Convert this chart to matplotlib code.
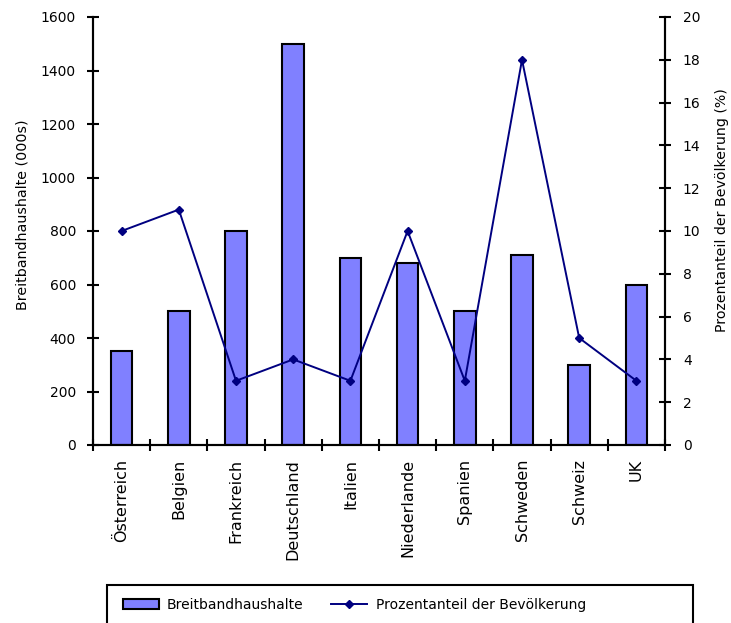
import matplotlib.pyplot as plt
from matplotlib.patches import Rectangle

plt.rcParams['font.family'] = ['DejaVu Sans']

# broadband households per country
laender = ['Österreich', 'Belgien', 'Frankreich', 'Deutschland', 'Italien',
           'Niederlande', 'Spanien', 'Schweden', 'Schweiz', 'UK']
haushalte = [350, 500, 800, 1500, 700, 680, 500, 710, 300, 600]
prozent = [10, 11, 3, 4, 3, 10, 3, 18, 5, 3]

W, H = 731, 623
fig = plt.figure(figsize=(W / 100, H / 100), dpi=100)
ax = fig.add_axes([93 / W, 1 - 445 / H, (665 - 93) / W, (445 - 17) / H])
ax2 = ax.twinx()

x = list(range(len(laender)))
bars = ax.bar(x, haushalte, width=0.38, color='#8080FF', edgecolor='black',
              linewidth=1.5, label='Breitbandhaushalte', zorder=2)
line, = ax2.plot(x, prozent, color='#000080', lw=1.4, marker='D', ms=4,
                 label='Prozentanteil der Bevölkerung')

ax.set_xlim(-0.5, len(laender) - 0.5)
ax.set_ylim(0, 1600)
ax.set_yticks(range(0, 1601, 200))
ax2.set_ylim(0, 20)
ax2.set_yticks(range(0, 21, 2))

# category ticks sit on the boundaries, labels in the middle
ax.set_xticks([i - 0.5 for i in range(len(laender) + 1)])
ax.set_xticklabels([])
ax.set_xticks(x, minor=True)
ax.set_xticklabels(laender, minor=True, rotation=90, fontsize=11.5)
ax.tick_params(axis='x', which='minor', length=0, pad=10)
ax.tick_params(axis='x', which='major', direction='inout', length=8.6, width=1.5)

for a in (ax, ax2):
    a.spines['top'].set_visible(False)
    for s in a.spines.values():
        s.set_linewidth(1.5)
ax.tick_params(axis='y', direction='inout', length=8.6, width=1.5,
               labelsize=10, pad=7.9)
ax2.tick_params(axis='y', direction='inout', length=8.6, width=1.5,
                labelsize=10, pad=8.6)

ax.set_ylabel('Breitbandhaushalte (000s)', fontsize=10.3)
ax.yaxis.label.set_va('center')
ax.yaxis.set_label_coords(-(93 - 22.5) / (665 - 93), 1 - (215 - 17) / 428)
ax2.set_ylabel('Prozentanteil der Bevölkerung (%)', fontsize=10.2)
ax2.yaxis.label.set_va('center')
ax2.yaxis.set_label_coords(1 + (722.5 - 665) / (665 - 93), 1 - (210 - 17) / 428)

# legend box runs off the bottom edge
fig.patches.append(Rectangle((107 / W, -0.05), (693 - 107) / W, 0.05 + 1 - 585 / H,
                             transform=fig.transFigure, fill=False,
                             edgecolor='black', linewidth=1.5))
fig.legend([bars, line], [bars.get_label(), line.get_label()],
           loc='center left', bbox_to_anchor=(110 / W, 1 - 605 / H), ncol=2,
           frameon=False, fontsize=10, handlelength=2.6, handleheight=0.65,
           columnspacing=2.0, handletextpad=0.6)

fig.savefig('out.png', dpi=100)
